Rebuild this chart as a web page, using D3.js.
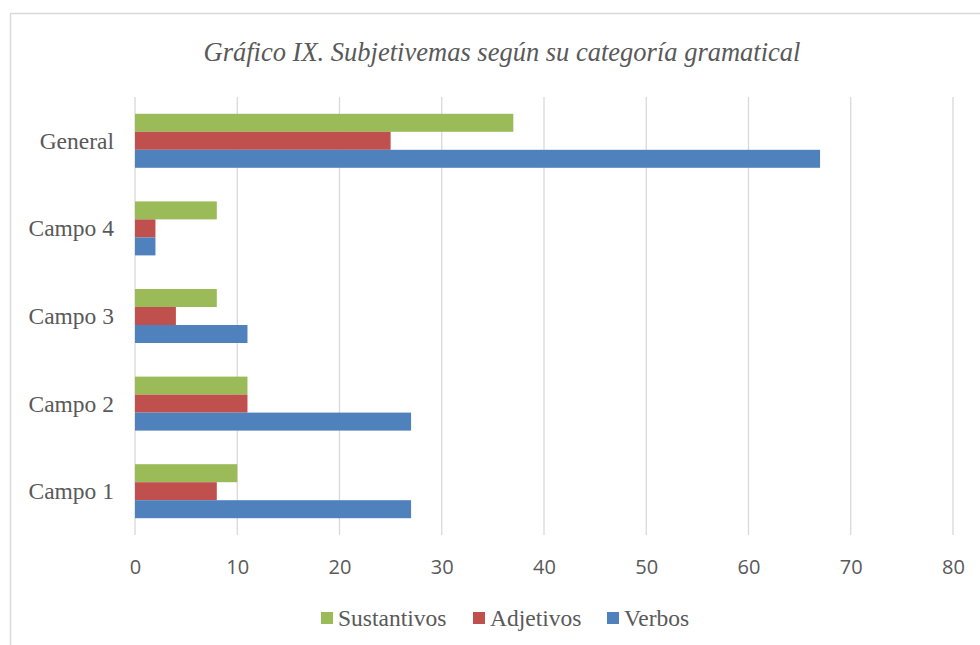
<!DOCTYPE html>
<html>
<head>
<meta charset="utf-8">
<script src="https://cdn.jsdelivr.net/npm/d3@7"></script>
<style>
  body { margin: 0; background: #fff; }
  svg { display: block; }
</style>
</head>
<body>
<div id="chart"></div>
<script>
// data
var categories = ["General", "Campo 4", "Campo 3", "Campo 2", "Campo 1"];
var seriesNames = ["Sustantivos", "Adjetivos", "Verbos"];
var sustantivos = [37, 8, 8, 11, 10];
var adjetivos = [25, 2, 4, 11, 8];
var verbos = [67, 2, 11, 27, 27];
var xTicks = [0, 10, 20, 30, 40, 50, 60, 70, 80];
var titleText = "Gráfico IX. Subjetivemas según su categoría gramatical";

var seriesValues = [sustantivos, adjetivos, verbos];
var colors = ["#9bbb59", "#c0504d", "#4f81bd"];

var width = 980, height = 645;

var svg = d3.select("#chart").append("svg")
    .attr("width", width)
    .attr("height", height);

// chart frame (cut off on right and bottom like the source)
svg.append("rect")
    .attr("x", 10.5).attr("y", 13.5)
    .attr("width", 1000).attr("height", 700)
    .attr("fill", "#fff")
    .attr("stroke", "#d9d9d9")
    .attr("stroke-width", 1.5);

// title
svg.append("text")
    .attr("x", 502).attr("y", 52)
    .attr("text-anchor", "middle")
    .attr("dominant-baseline", "central")
    .style("font-family", "'Liberation Serif', 'Times New Roman', serif")
    .style("font-style", "italic")
    .style("font-size", "26.5px")
    .style("fill", "#595959")
    .text(titleText);

// scales
var x = d3.scaleLinear().domain([0, 80]).range([135, 953]);

var p = 1 - 54 / 87.6;
var y = d3.scaleBand().domain(categories).range([97, 535])
    .paddingInner(p).paddingOuter(p / 2);

var ySub = d3.scaleBand().domain(seriesNames).range([0, y.bandwidth()]);

// gridlines
svg.append("g").selectAll("line")
    .data(xTicks)
    .join("line")
    .attr("x1", function (d) { return x(d); })
    .attr("x2", function (d) { return x(d); })
    .attr("y1", 97).attr("y2", 535)
    .attr("stroke", "#d9d9d9")
    .attr("stroke-width", 1.3);

// bars
seriesNames.forEach(function (name, si) {
    svg.append("g").selectAll("rect")
        .data(seriesValues[si])
        .join("rect")
        .attr("x", x(0))
        .attr("y", function (d, i) { return y(categories[i]) + ySub(name); })
        .attr("width", function (d) { return x(d) - x(0); })
        .attr("height", ySub.bandwidth())
        .attr("fill", colors[si]);
});

// x axis labels
var xAxis = d3.axisBottom(x).tickValues(xTicks).tickSize(0).tickPadding(0);
var gx = svg.append("g")
    .attr("transform", "translate(0,559)")
    .call(xAxis);
gx.select(".domain").remove();
gx.selectAll("text")
    .attr("dy", null)
    .attr("dominant-baseline", "central")
    .attr("y", 7)
    .style("font-family", "'Open Sans', sans-serif")
    .style("font-size", "20px")
    .style("fill", "#595959");

// category labels
var yAxis = d3.axisLeft(y).tickSize(0).tickPadding(0);
var gy = svg.append("g")
    .attr("transform", "translate(114,0)")
    .call(yAxis);
gy.select(".domain").remove();
gy.selectAll("text")
    .attr("dy", null)
    .attr("dominant-baseline", "central")
    .style("font-family", "'Liberation Serif', 'Times New Roman', serif")
    .style("font-size", "23.5px")
    .style("fill", "#595959");

// legend
var legendX = [321, 473, 607];
var legend = svg.append("g").selectAll("g")
    .data(seriesNames)
    .join("g")
    .attr("transform", function (d, i) { return "translate(" + legendX[i] + ",618)"; });

legend.append("rect")
    .attr("x", 0).attr("y", -6)
    .attr("width", 12).attr("height", 12)
    .attr("fill", function (d, i) { return colors[i]; });

legend.append("text")
    .attr("x", 17).attr("y", 0)
    .attr("dominant-baseline", "central")
    .style("font-family", "'Liberation Serif', 'Times New Roman', serif")
    .style("font-size", "23.5px")
    .style("fill", "#595959")
    .text(function (d) { return d; });
</script>
</body>
</html>
